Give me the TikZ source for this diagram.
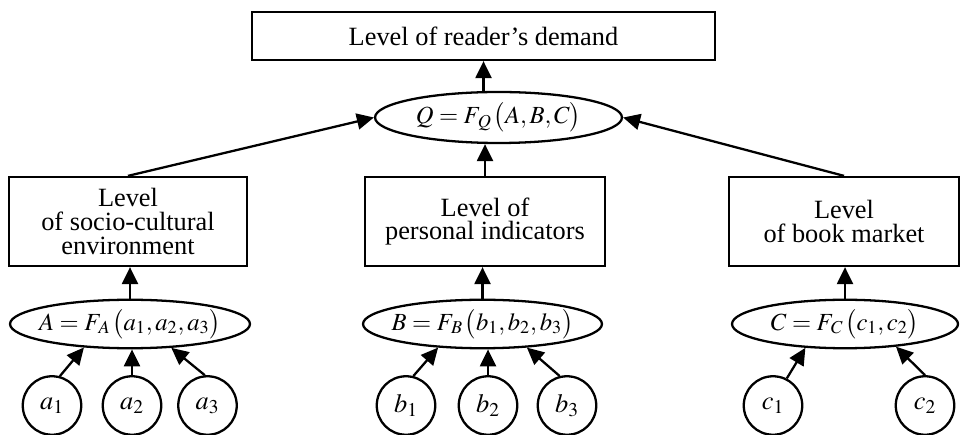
\documentclass[tikz,border=0pt]{standalone}
\usepackage{mathptmx}
\usepackage{fontspec}
\setmainfont{Liberation Serif}
\usepackage{tikz}
\usetikzlibrary{shapes.geometric,arrows.meta}

\begin{document}
\begin{tikzpicture}[
	x=0.02cm, y=-0.02cm,
	every node/.style={draw, line width=1.3pt, inner sep=0pt,
		font=\fontsize{15}{13.6}\selectfont},
	lvlbox/.style={rectangle, align=center, minimum height=1.78cm},
	fnell/.style={ellipse, inner xsep=-0.5cm, minimum height=0.97cm,
		font=\fontsize{14}{16}\selectfont},
	varcirc/.style={circle, minimum size=1.17cm},
	link/.style={
		draw, line width=1.3pt,
		-{Triangle[length=3.4mm,width=3.2mm]}
	}
	]
	\useasboundingbox (0,0) rectangle (960,435);

	\node[lvlbox, minimum width=9.26cm, minimum height=0.96cm] (demand) at (483.5,36) {Level of reader's demand};
	\node[fnell, minimum width=4.94cm, minimum height=1.02cm] (Q) at (498.5,117.5) {$Q = F_{\kern1pt Q}\kern1pt\bigl(A,B,C\bigr)$};

	\node[lvlbox, minimum width=4.76cm] (envir) at (128,221.5) {Level\\of socio-cultural\\environment};
	\node[lvlbox, minimum width=4.8cm] (person) at (485,221.5) {Level of\\personal indicators};
	\node[lvlbox, minimum width=4.6cm] (market) at (844,221.5) {Level\\of book market};

	\node[fnell, minimum width=4.8cm] (A) at (130,324) {$A = F_{\kern1pt A}\kern1pt\bigl(a_1,a_2,a_3\bigr)$};
	\node[fnell, minimum width=4.78cm] (B) at (482.5,324) {$B = F_{\kern1pt B}\kern1pt\bigl(b_1,b_2,b_3\bigr)$};
	\node[fnell, minimum width=4.52cm] (C) at (845,324) {$C = F_{\kern1pt C}\kern1pt\bigl(c_1,c_2\bigr)$};

	\node[varcirc] (a1) at (52,405.5) {$a_1$};
	\node[varcirc] (a2) at (132,405.5) {$a_2$};
	\node[varcirc] (a3) at (207.5,405.5) {$a_3$};
	\node[varcirc] (b1) at (406,405.5) {$b_1$};
	\node[varcirc] (b2) at (488,405.5) {$b_2$};
	\node[varcirc] (b3) at (567,405.5) {$b_3$};
	\node[varcirc] (c1) at (773,405.5) {$c_1$};
	\node[varcirc] (c2) at (925,405.5) {$c_2$};

	\draw[link] (demand.south |- Q.north) -- (demand.south);
	\draw[link] (envir.north) -- (Q.west);
	\draw[link] (person.north) -- (person.north |- Q.south);
	\draw[link] (market.north) -- (Q.east);

	\draw[link] (A.north) -- (A.north |- envir.south);
	\draw[link] (B.north) -- (B.north |- person.south);
	\draw[link] (C.north) -- (C.north |- market.south);

	\draw[link] (a1.75) -- (A.207);
	\draw[link] (a2) -- (a2 |- A.south);
	\draw[link] (a3.95) -- (A.330);
	\draw[link] (b1.76) -- (B.208);
	\draw[link] (b2) -- (b2 |- B.south);
	\draw[link] (b3.104) -- (B.332);
	\draw[link] (c1.63) -- (C.211);
	\draw[link] (c2.90) -- (C.336);
\end{tikzpicture}
\end{document}
